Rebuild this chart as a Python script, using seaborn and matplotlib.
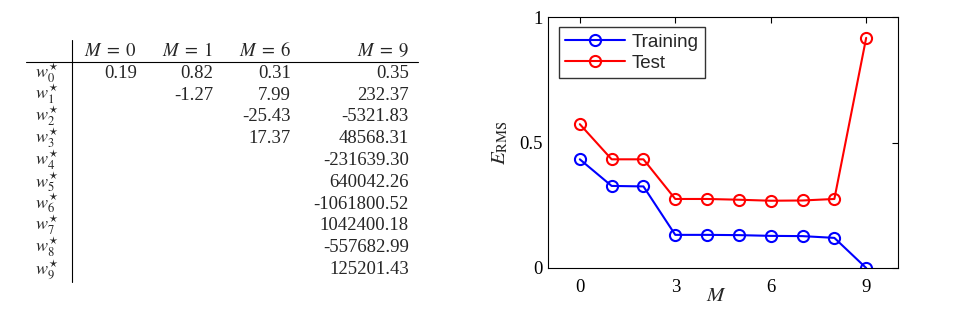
import numpy as np
import pandas as pd
import matplotlib
matplotlib.use("Agg")
import matplotlib.pyplot as plt
import seaborn as sns
from matplotlib.lines import Line2D

# ---- data ----
orders = [0, 1, 2, 3, 4, 5, 6, 7, 8, 9]
train_rms = [0.433, 0.327, 0.325, 0.132, 0.132, 0.131, 0.128, 0.127, 0.120, 0.0]
test_rms = [0.573, 0.433, 0.433, 0.275, 0.275, 0.272, 0.268, 0.269, 0.275, 0.917]
series_names = ["Training", "Test"]
series_colors = ["#0000ff", "#ff0000"]

table_headers = [r"$M\;=\;0$", r"$M\;=\;1$", r"$M\;=\;6$", r"$M\;=\;9$"]
row_labels = [r"$w_{%d}^{\star}$" % i for i in range(10)]
col_m0 = ["0.19"]
col_m1 = ["0.82", "-1.27"]
col_m6 = ["0.31", "7.99", "-25.43", "17.37"]
col_m9 = ["0.35", "232.37", "-5321.83", "48568.31", "-231639.30",
          "640042.26", "-1061800.52", "1042400.18", "-557682.99", "125201.43"]

xticks = [0, 3, 6, 9]
yticks = [0, 0.5, 1]
ytick_labels = ["0", "0.5", "1"]

sns.set_theme(style="white")
plt.rcParams["font.family"] = ["Liberation Serif", "DejaVu Serif"]
plt.rcParams["mathtext.fontset"] = "stix"

W, H = 967, 322
fig = plt.figure(figsize=(W / 100, H / 100), dpi=100)
fig.patch.set_facecolor("white")

# ---- table ----
axt = fig.add_axes([0, 0, 450 / W, 1])
axt.set_xlim(0, 450)
axt.set_ylim(H, 0)
axt.axis("off")
fs = 13.5
col_right = [137, 213, 291, 409]
header_base = 56
row_base0 = 77.7
row_step = 21.8
for x, h in zip(col_right, table_headers):
    axt.text(x, header_base, h, ha="right", va="baseline", fontsize=fs)
for i, lab in enumerate(row_labels):
    axt.text(47, row_base0 + i * row_step, lab, ha="center", va="baseline", fontsize=13)
for x, col in zip(col_right, [col_m0, col_m1, col_m6, col_m9]):
    for i, v in enumerate(col):
        axt.text(x, row_base0 + i * row_step, v, ha="right", va="baseline", fontsize=fs)
axt.plot([26, 418], [62, 62], color="black", lw=0.8)
axt.plot([72, 72], [40, 282], color="black", lw=0.8)

# ---- plot ----
ax = fig.add_axes([548 / W, (H - 268) / H, 350 / W, 251 / H])
df = pd.DataFrame({
    "M": orders * 2,
    "E": train_rms + test_rms,
    "series": [series_names[0]] * len(orders) + [series_names[1]] * len(orders),
})
sns.lineplot(data=df, x="M", y="E", hue="series", palette=dict(zip(series_names, series_colors)),
             marker="o", markersize=8, markerfacecolor="none", markeredgewidth=1.5,
             linewidth=1.5, ax=ax, legend=False)
for line, c in zip(ax.get_lines(), series_colors):
    line.set_markeredgecolor(c)

ax.set_xlim(-1, 10)
ax.set_ylim(0, 1)
ax.set_xticks(xticks)
ax.set_yticks(yticks)
ax.set_yticklabels(ytick_labels)
ax.tick_params(direction="in", length=4, width=0.8, top=True, right=True,
               labelsize=13.5, colors="black")
ax.tick_params(axis="x", pad=8)
ax.tick_params(axis="y", pad=4)
for s in ax.spines.values():
    s.set_color("black")
    s.set_linewidth(0.8)
ax.set_xlabel("$M$", fontsize=15)
ax.set_ylabel(r"$E_{\mathrm{RMS}}$", fontsize=15, labelpad=6)
ax.xaxis.set_label_coords(0.48, -0.075)

handles = [Line2D([0], [0], color=c, marker="o", markersize=8, markerfacecolor="none",
                  markeredgewidth=1.5, linewidth=1.5) for c in series_colors]
leg = ax.legend(handles, series_names, loc="upper left", bbox_to_anchor=(0.03, 0.96),
                prop={"family": "Liberation Sans", "size": 13.5}, frameon=True, fancybox=False,
                edgecolor="#333333", borderpad=0.35, handlelength=3.2, labelspacing=0.2,
                handletextpad=0.35, borderaxespad=0)
leg.get_frame().set_linewidth(1.0)
leg.get_frame().set_alpha(1)

fig.savefig("out.png", dpi=100, facecolor="white")
